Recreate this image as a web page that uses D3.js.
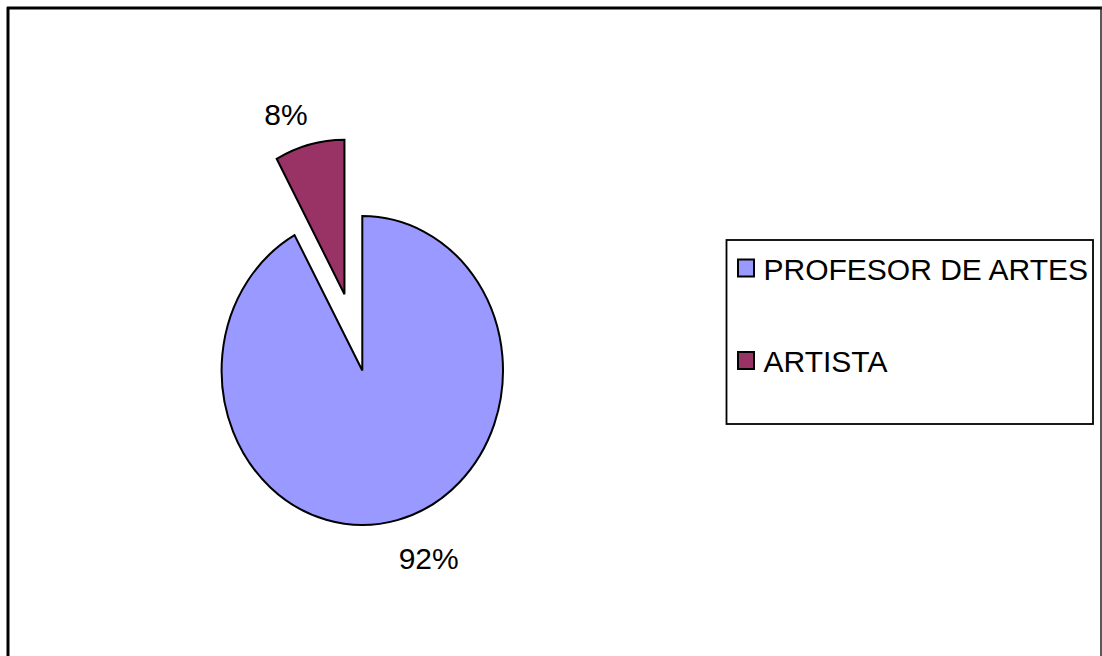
<!DOCTYPE html>
<html>
<head>
<meta charset="utf-8">
<script src="https://cdn.jsdelivr.net/npm/d3@7"></script>
<style>
  html, body { margin: 0; padding: 0; background: #fff; }
  svg { display: block; font-family: "Liberation Sans", Arial, sans-serif; }
</style>
</head>
<body>
<svg id="chart" width="1102" height="656"></svg>
<script>
// Occupation split of respondents
const categories = ["PROFESOR DE ARTES", "ARTISTA"];
const values = [92, 8];
const labels = ["92%", "8%"];
const colors = ["#9999FF", "#993366"];
const exploded = [false, true];

const svg = d3.select("#chart");
const W = 1102, H = 656;

// Outer frame
svg.append("line").attr("x1", 7).attr("x2", W).attr("y1", 8).attr("y2", 8)
  .attr("stroke", "#000").attr("stroke-width", 3);
svg.append("line").attr("x1", 8).attr("x2", 8).attr("y1", 7).attr("y2", H)
  .attr("stroke", "#000").attr("stroke-width", 3);
svg.append("line").attr("x1", 1101).attr("x2", 1101).attr("y1", 7).attr("y2", H)
  .attr("stroke", "#222").attr("stroke-width", 1.5);

// Pie geometry (slightly elliptical)
const cx = 362.3, cy = 370.5, ry = 154.5, rx = 140.7;
const sx = rx / ry;
const explodeFrac = 0.51;

const pie = d3.pie().sort(null).value(d => d.value);
const arcs = pie(categories.map((c, i) => ({ name: c, value: values[i], i })));
const arc = d3.arc().innerRadius(0).outerRadius(ry);

const pieG = svg.append("g").attr("transform", `translate(${cx},${cy}) scale(${sx},1)`);

pieG.selectAll("path.slice")
  .data(arcs)
  .join("path")
  .attr("class", "slice")
  .attr("transform", d => {
    if (!exploded[d.data.i]) return null;
    const mid = (d.startAngle + d.endAngle) / 2;
    const dist = explodeFrac * ry;
    return `translate(${Math.sin(mid) * dist},${-Math.cos(mid) * dist})`;
  })
  .attr("d", arc)
  .attr("fill", d => colors[d.data.i])
  .attr("stroke", "#000")
  .attr("stroke-width", 2)
  .attr("stroke-linejoin", "miter")
  .attr("vector-effect", "non-scaling-stroke");

// Percentage labels
const labelPos = [
  { x: cx + 66.4, y: cy + 198.5 },   // 92%
  { x: cx - 76.3, y: cy - 245.5 }    // 8%
];
svg.selectAll("text.pct")
  .data(arcs)
  .join("text")
  .attr("class", "pct")
  .attr("x", d => labelPos[d.data.i].x)
  .attr("y", d => labelPos[d.data.i].y)
  .attr("text-anchor", "middle")
  .attr("font-size", 30)
  .attr("fill", "#000")
  .text(d => labels[d.data.i]);

// Legend
const legend = svg.append("g");
legend.append("rect")
  .attr("x", 726.5).attr("y", 240).attr("width", 366.5).attr("height", 184)
  .attr("fill", "#fff").attr("stroke", "#000").attr("stroke-width", 1.8);

const legendY = d3.scalePoint().domain(categories).range([268, 360.5]);
const items = legend.selectAll("g.item")
  .data(categories)
  .join("g")
  .attr("class", "item")
  .attr("transform", d => `translate(0,${legendY(d)})`);

items.append("rect")
  .attr("x", 738).attr("y", -8.5).attr("width", 16).attr("height", 17)
  .attr("fill", (d, i) => colors[i])
  .attr("stroke", "#000").attr("stroke-width", 2);

items.append("text")
  .attr("x", 763.5).attr("y", 11.5)
  .attr("font-size", 30)
  .attr("fill", "#000")
  .text(d => d);
</script>
</body>
</html>
